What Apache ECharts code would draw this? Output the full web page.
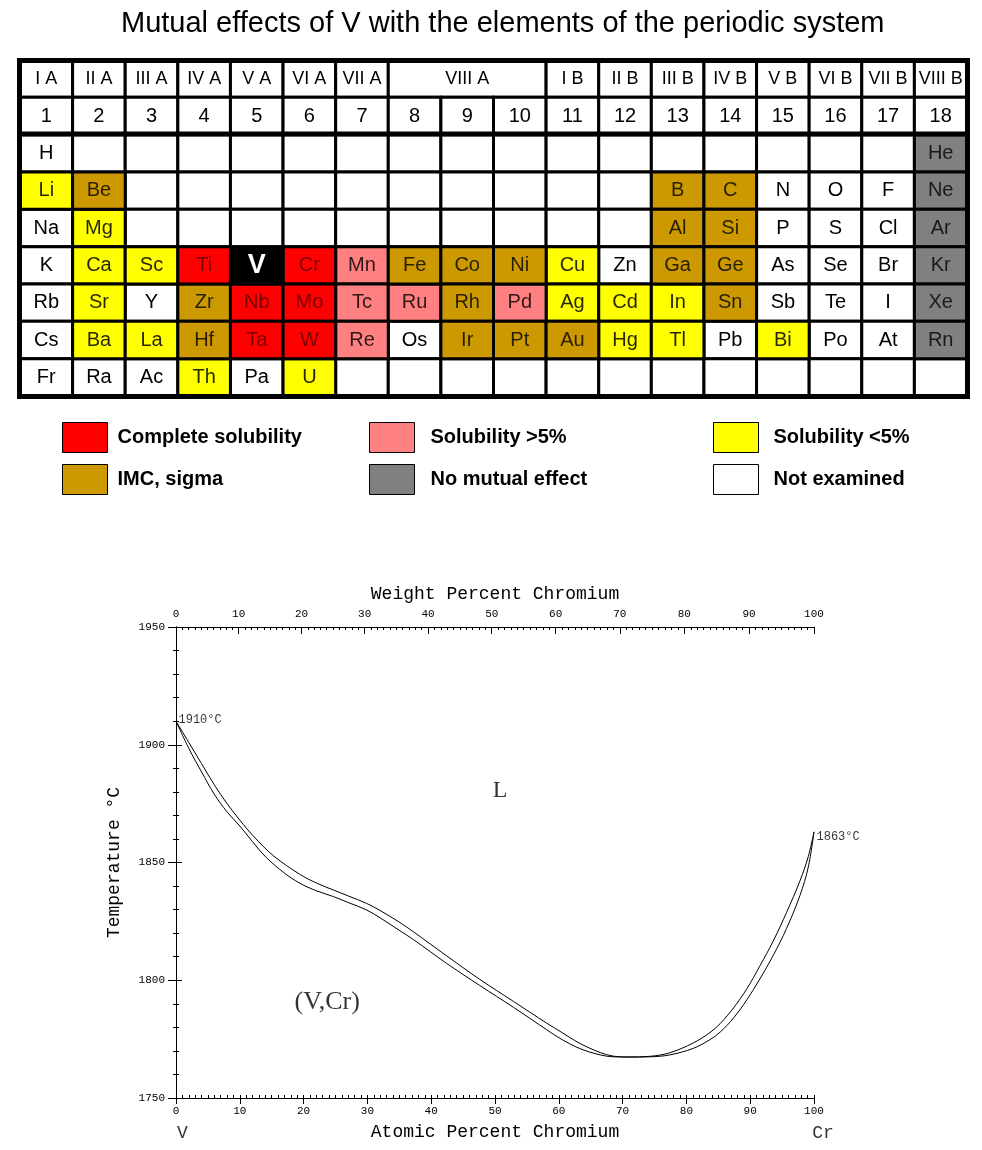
<!DOCTYPE html>
<html><head><meta charset="utf-8">
<script src="https://cdn.jsdelivr.net/npm/echarts@6/dist/echarts.min.js"></script>
<style>html,body{margin:0;padding:0;background:#fff}#c{width:982px;height:1150px}</style>
</head><body><div id="c"></div>
<script>
// ---------------- data: periodic table ----------------
const titleText = 'Mutual effects of V with the elements of the periodic system';
const groupLabels = ['I A','II A','III A','IV A','V A','VI A','VII A','VIII A','I B','II B','III B','IV B','V B','VI B','VII B','VIII B'];
const groupSpans  = [1,1,1,1,1,1,1,3,1,1,1,1,1,1,1,1];
const groupNumbers = ['1','2','3','4','5','6','7','8','9','10','11','12','13','14','15','16','17','18'];
const periodSymbols = [
  ['H','','','','','','','','','','','','','','','','','He'],
  ['Li','Be','','','','','','','','','','','B','C','N','O','F','Ne'],
  ['Na','Mg','','','','','','','','','','','Al','Si','P','S','Cl','Ar'],
  ['K','Ca','Sc','Ti','V','Cr','Mn','Fe','Co','Ni','Cu','Zn','Ga','Ge','As','Se','Br','Kr'],
  ['Rb','Sr','Y','Zr','Nb','Mo','Tc','Ru','Rh','Pd','Ag','Cd','In','Sn','Sb','Te','I','Xe'],
  ['Cs','Ba','La','Hf','Ta','W','Re','Os','Ir','Pt','Au','Hg','Tl','Pb','Bi','Po','At','Rn'],
  ['Fr','Ra','Ac','Th','Pa','U','','','','','','','','','','','','']
];
// C complete, I IMC/sigma, P >5%, Y <5%, N no effect, W not examined, X the element itself
const periodStatus = [
  'WWWWWWWWWWWWWWWWWN',
  'YIWWWWWWWWWWIIWWWN',
  'WYWWWWWWWWWWIIWWWN',
  'WYYCXCPIIIYWIIWWWN',
  'WYWICCPPIPYYYIWWWN',
  'WYYICCPWIIIYYWYWWN',
  'WWWYWYWWWWWWWWWWWW'
];
const statusNames = {C:'Complete solubility', I:'IMC, sigma', P:'Solubility >5%', N:'No mutual effect', Y:'Solubility <5%', W:'Not examined', X:'V'};
const legendColumns = [['C','I'],['P','N'],['Y','W']];

// ---------------- data: V-Cr phase diagram ----------------
const liquidusAt = [0,2,4,6,8,10,12.1,15.3,19.4,22,24.7,27,29.9,32,35.1,37.2,42.4,47.6,52.9,58.1,60.2,63.3,66.5,68.5,71,74.3,77.4,81.1,83.7,85.3,87.4,89.5,91.5,93.6,95.7,97.8,99.1,100];
const liquidusT  = [1910,1901,1892,1883,1875,1868,1861.3,1852.8,1845,1841.3,1838.3,1835.8,1832.6,1829.6,1824.5,1820.6,1810.4,1800.4,1791,1781.8,1778.3,1773.2,1769.3,1767.8,1767.4,1767.7,1769.2,1773.4,1777.8,1781.6,1788.3,1796.5,1806,1816.6,1828.8,1842.2,1852.5,1863];
const solidusAt  = [0,2,4,6,8,10,12,14.2,17,19.4,22,24.7,27,29.9,32,35.1,37.2,42.4,47.6,52.9,58.1,60.2,63.3,66.5,68.5,71,74.3,77.4,81.1,83.7,85.3,87.4,89.5,91.5,93.6,95.7,97.8,99.1,100];
const solidusT   = [1910,1898.5,1888.5,1879,1871.5,1865.5,1858.8,1852,1845.5,1841.2,1838,1835.5,1833,1829.8,1826.5,1821,1817.3,1807.2,1797.8,1788.5,1779,1775.3,1771,1768.3,1767.5,1767.4,1767.5,1768.3,1771.1,1774.8,1778,1784,1791.8,1800.5,1810.5,1822,1836,1848,1863];
const atomicTickLabels = [0,10,20,30,40,50,60,70,80,90,100];
const weightTickLabels = [0,10,20,30,40,50,60,70,80,90,100];
const tempTickLabels = [1750,1800,1850,1900,1950];
const massCr = 51.996, massV = 50.9415;
const annotationTexts = ['1910°C','1863°C','L','(V,Cr)','V','Cr'];
const annotationAt    = [0,100,50.8,23.7,1,101.4];
const annotationT     = [1910,1863,1880.4,1790.8,1735,1735];

// ---------------- styles ----------------
const statusFill = {C:'#FF0000', I:'#CC9900', P:'#FF8080', Y:'#FFFF00', N:'#808080', W:'#FFFFFF', X:'#000000'};
const statusText = {C:'#7a0000', I:'rgba(0,0,0,0.8)', P:'rgba(0,0,0,0.82)', Y:'rgba(0,0,0,0.85)', N:'rgba(0,0,0,0.8)', W:'#000', X:'#fff'};
const SANS = 'Liberation Sans, Arial, sans-serif';
const MONO = 'Liberation Mono, DejaVu Sans Mono, monospace';
const SERIF = 'Liberation Serif, DejaVu Serif, serif';

function weightToAtomic(w){ const a=w/massCr, b=(100-w)/massV; return a/(a+b)*100; }
function atomicToWeight(x){ const a=x*massCr, b=(100-x)*massV; return a/(a+b)*100; }

const rowNames = ['g','n','1','2','3','4','5','6','7'];

function makeRender(cells){
  return function(params, api){
    const cell = cells[params.dataIndex];
    const c = api.coord([api.value(0), api.value(1)]);
    const sz = api.size([1,1]);
    const x = c[0]-sz[0]/2, y = c[1]-sz[1]/2;
    return {
      type:'rect',
      shape:{x:x, y:y, width:sz[0]*api.value(2), height:sz[1]},
      style:{fill:cell.fill, stroke:'#000', lineWidth:3},
      textContent:{style:{text:cell.text, fill:cell.textFill, fontSize:cell.fontSize, fontFamily:SANS, fontWeight:cell.bold?'bold':'normal'}},
      textConfig:{position:'inside'}
    };
  };
}

const series = [];
const headerCells = [];
let col = 0;
groupLabels.forEach((g,i)=>{ headerCells.push({value:[col,0,groupSpans[i]], text:g, fill:'#fff', textFill:'#000', fontSize:18}); col += groupSpans[i]; });
groupNumbers.forEach((n,i)=>{ headerCells.push({value:[i,1,1], text:n, fill:'#fff', textFill:'#000', fontSize:20}); });
series.push({type:'custom', name:'header', xAxisIndex:0, yAxisIndex:0, renderItem:makeRender(headerCells), data:headerCells.map(c=>c.value), silent:true});

['W','Y','P','I','N','C','X'].forEach(code=>{
  const cells = [];
  periodStatus.forEach((row,r)=>{
    for (let k=0;k<18;k++){
      if (row[k]===code){
        cells.push({value:[k,r+2,1], text:periodSymbols[r][k], fill:statusFill[code], textFill:statusText[code], fontSize: code==='X'?27:20, bold: code==='X'});
      }
    }
  });
  series.push({type:'custom', name:statusNames[code], xAxisIndex:0, yAxisIndex:0, itemStyle:{color:statusFill[code]},
    renderItem:makeRender(cells), data:cells.map(c=>c.value), silent:true});
});

series.push({type:'line', name:'liquidus', xAxisIndex:1, yAxisIndex:1, data:liquidusAt.map((x,i)=>[x,liquidusT[i]]),
  symbol:'none', smooth:0.35, lineStyle:{color:'#000', width:1}, silent:true, z:5});
series.push({type:'line', name:'solidus', xAxisIndex:1, yAxisIndex:1, data:solidusAt.map((x,i)=>[x,solidusT[i]]),
  symbol:'none', smooth:0.35, lineStyle:{color:'#000', width:1}, silent:true, z:5});

const annoStyles = [
  {position:'right', distance:2, offset:[0,-1], fontSize:12, fontFamily:MONO},
  {position:'right', distance:2, offset:[0,5], fontSize:12, fontFamily:MONO},
  {position:'inside', fontSize:24, fontFamily:SERIF},
  {position:'inside', fontSize:26, fontFamily:SERIF},
  {position:'inside', fontSize:18, fontFamily:MONO},
  {position:'inside', fontSize:18, fontFamily:MONO}
];
series.push({type:'scatter', name:'annotations', xAxisIndex:1, yAxisIndex:1, clip:false, silent:true,
  symbolSize:1, itemStyle:{color:'rgba(0,0,0,0)'},
  data: annotationTexts.map((t,i)=>({value:[annotationAt[i], annotationT[i]], name:t,
    label:Object.assign({show:true, formatter:t, color:'#000'}, annoStyles[i])}))});

const weightMajor = weightTickLabels.map(weightToAtomic);
const weightMinor = [];
for (let w=1; w<100; w++){ if (w%10!==0) weightMinor.push(weightToAtomic(w)); }

const axisBase = {type:'value', min:0, max:100, splitLine:{show:false},
  axisLine:{show:true, lineStyle:{color:'#000', width:1}}, axisTick:{lineStyle:{color:'#000'}},
  axisLabel:{color:'#000', fontFamily:MONO, fontSize:11}};
const nameStyle = {color:'#000', fontFamily:MONO, fontSize:18};

const option = {
  animation:false,
  backgroundColor:'#fff',
  title:{text:titleText, left:116, top:4, textStyle:{fontFamily:SANS, fontSize:29, fontWeight:'normal', color:'#000'}},
  legend: legendColumns.map((cols,i)=>({
    orient:'vertical', left:[62,369,713][i], top:422, padding:0, itemGap:11, itemWidth:45, itemHeight:30,
    icon:'rect', selectedMode:false, data:cols.map(c=>statusNames[c]),
    itemStyle:{borderColor:'#000', borderWidth:1},
    textStyle:{fontFamily:SANS, fontSize:20, fontWeight:'bold', color:'#000', padding:[0,0,0,[5,11,10][i]]}
  })),
  grid:[
    {left:20, top:60, width:947, height:336, outerBoundsMode:'none'},
    {left:176, top:627, width:638, height:471, outerBoundsMode:'none'}
  ],
  xAxis:[
    {type:'category', gridIndex:0, data:groupNumbers, show:false},
    Object.assign({}, axisBase, {gridIndex:1, position:'bottom', interval:10,
      axisTick:{show:true, inside:false, length:6, lineStyle:{color:'#000'}},
      axisLabel:Object.assign({}, axisBase.axisLabel, {margin:8, customValues:atomicTickLabels}),
      name:'Atomic Percent Chromium', nameLocation:'middle', nameGap:25, nameTextStyle:nameStyle}),
    Object.assign({}, axisBase, {gridIndex:1, position:'bottom', interval:10, axisLine:{show:false},
      axisTick:{show:true, inside:true, length:3, lineStyle:{color:'#000'}},
      minorTick:{show:true, splitNumber:10, length:3, lineStyle:{color:'#000'}},
      axisLabel:{show:false}}),
    Object.assign({}, axisBase, {gridIndex:1, position:'top',
      axisTick:{show:true, inside:true, length:7, customValues:weightMajor, lineStyle:{color:'#000'}},
      axisLabel:Object.assign({}, axisBase.axisLabel, {margin:7, customValues:weightMajor,
        formatter:v=>String(Math.round(atomicToWeight(v)))}),
      name:'Weight Percent Chromium', nameLocation:'middle', nameGap:24, nameTextStyle:nameStyle}),
    Object.assign({}, axisBase, {gridIndex:1, position:'top', axisLine:{show:false},
      axisTick:{show:true, inside:true, length:3, customValues:weightMinor, lineStyle:{color:'#000'}},
      axisLabel:{show:false}})
  ],
  yAxis:[
    {type:'category', gridIndex:0, data:rowNames, inverse:true, show:false},
    {type:'value', gridIndex:1, position:'left', min:1750, max:1950, interval:50, splitLine:{show:false},
      axisLine:{show:true, lineStyle:{color:'#000'}},
      axisTick:{show:true, inside:false, length:8, lineStyle:{color:'#000'}},
      minorTick:{show:true, splitNumber:5, length:3, lineStyle:{color:'#000'}},
      axisLabel:{color:'#000', fontFamily:MONO, fontSize:11, margin:11, customValues:tempTickLabels, formatter:v=>String(v)},
      name:'Temperature °C', nameLocation:'middle', nameGap:53, nameRotate:90, nameTextStyle:nameStyle},
    {type:'value', gridIndex:1, position:'right', min:1750, max:1950, interval:50, splitLine:{show:false},
      axisLine:{show:true, lineStyle:{color:'#000'}},
      axisTick:{show:true, inside:false, length:6, lineStyle:{color:'#000'}},
      minorTick:{show:true, splitNumber:5, length:3, lineStyle:{color:'#000'}},
      axisLabel:{show:false}}
  ],
  graphic:[
    {type:'rect', shape:{x:19.5, y:60.5, width:948, height:336}, style:{fill:null, stroke:'#000', lineWidth:5}, z:100, silent:true},
    {type:'line', shape:{x1:19, y1:134, x2:968, y2:134}, style:{stroke:'#000', lineWidth:5}, z:100, silent:true}
  ],
  series:series
};
const chart = echarts.init(document.getElementById('c'), null, {renderer:'canvas'});
chart.setOption(option);
</script></body></html>
